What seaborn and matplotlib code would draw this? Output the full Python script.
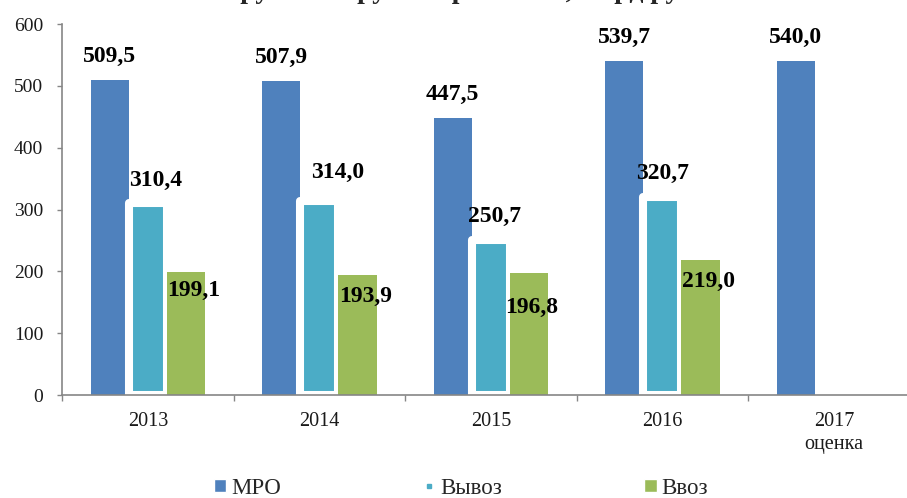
import matplotlib
matplotlib.use("Agg")
import matplotlib.pyplot as plt
import matplotlib.patheffects as pe
from matplotlib.patches import Patch
from matplotlib.lines import Line2D
import pandas as pd
import seaborn as sns

# данные
years = ["2013", "2014", "2015", "2016", "2017"]
year_labels = ["2013", "2014", "2015", "2016", "2017\nоценка"]
series = ["МРО", "Вывоз", "Ввоз"]
mro = [509.5, 507.9, 447.5, 539.7, 540.0]
vyvoz = [310.4, 314.0, 250.7, 320.7]
vvoz = [199.1, 193.9, 196.8, 219.0]
colors = ["#4F81BD", "#4BACC6", "#9BBB59"]
title = "Выручка и грузооборот МРО, млрд руб."

rows = []
for name, vals in zip(series, [mro, vyvoz, vvoz]):
    for y, v in zip(years, vals):
        rows.append({"год": y, "серия": name, "значение": v})
df = pd.DataFrame(rows)

# смещения подписей в пикселях (dx, dy вверх)
label_offsets = [
    [(0, 24)] * 5,
    [(8, 23), (18, 28), (4, 24), (0, 23.5)],
    [(8, -19), (8, -21), (3, -34), (8, -22)],
]

sns.set_theme(style="white")
plt.rcParams["font.family"] = ["Liberation Serif", "DejaVu Serif"]

fig = plt.figure(figsize=(9.07, 4.98), dpi=100)
ax = fig.add_axes([0.0684, 0.2068, 0.9455, 0.745])

sns.barplot(data=df, x="год", y="значение", hue="серия", order=years,
            hue_order=series, palette=colors, width=0.667, gap=0,
            linewidth=0, saturation=1, legend=False, ax=ax)

# белая рамка и тень у столбцов "Вывоз"
for bar in ax.containers[1]:
    bar.set_edgecolor("white")
    bar.set_linewidth(5.8)
    bar.set_joinstyle("round")
    bar.set_path_effects([
        pe.SimplePatchShadow(offset=(2.5, -1.5), shadow_rgbFace="#7f7f7f", alpha=0.25),
        pe.Normal(),
    ])

for cont, offs in zip(ax.containers, label_offsets):
    for bar, (dx, dy) in zip(cont, offs):
        h = bar.get_height()
        txt = f"{h:.1f}".replace(".", ",")
        ax.annotate(txt, xy=(bar.get_x() + bar.get_width() / 2, h),
                    xytext=(dx * 0.72, dy * 0.72), textcoords="offset points",
                    ha="center", va="center", fontsize=17, fontweight="bold",
                    color="black")

ax.set_xlim(-0.5, 4.5)
ax.set_ylim(0, 600)
ax.set_yticks(range(0, 601, 100))
ax.set_xticks([i - 0.5 for i in range(6)])
ax.set_xticklabels([])
ax.set_xticks(range(5), minor=True)
ax.set_xticklabels(year_labels, minor=True, linespacing=1.3)
ax.set_xlabel("")
ax.set_ylabel("")

for s in ["top", "right"]:
    ax.spines[s].set_visible(False)
for s in ["left", "bottom"]:
    ax.spines[s].set_color("#868686")
    ax.spines[s].set_linewidth(1.2)

ax.tick_params(axis="x", which="major", length=4.5, width=1, color="#868686",
               direction="out", bottom=True)
ax.tick_params(axis="x", which="minor", length=0, pad=12, labelsize=14.5,
               labelcolor="#1a1a1a")
ax.tick_params(axis="y", length=3.6, width=1, color="#868686", direction="out",
               left=True, pad=10, labelsize=14, labelcolor="#1a1a1a")

handles = [
    Patch(facecolor=colors[0]),
    Line2D([], [], marker="s", markersize=3, color=colors[1], linestyle="none"),
    Patch(facecolor=colors[2]),
]
fig.legend(handles, series, loc="center", bbox_to_anchor=(0.508, 0.02), ncol=3,
           frameon=False, fontsize=16.5, handlelength=0.55, handleheight=0.55,
           handletextpad=0.2, columnspacing=6.2)

# заголовок в исходнике обрезан сверху, видны только нижние выносные элементы
fig.text(0.496, 1.005, title, ha="center", va="baseline", fontsize=20,
         fontweight="bold")

fig.savefig("out.png", dpi=100)
